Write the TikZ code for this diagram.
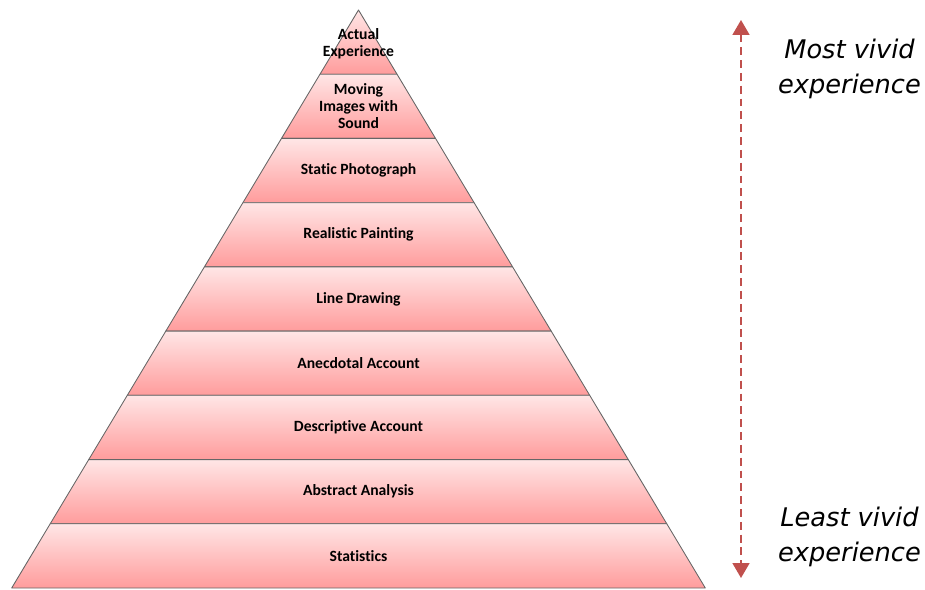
\documentclass[tikz,border=0pt]{standalone}
\usepackage{fontspec}
\setmainfont{Carlito}[Ligatures=NoCommon]
\newfontfamily\vividfont{DejaVu Sans}
\usepackage{tikz}
\usetikzlibrary{arrows.meta}

\definecolor{layertop}{HTML}{FFE6E6}
\definecolor{layerbot}{HTML}{FF9C9C}
\definecolor{arrowred}{HTML}{C0504D}

\tikzset{
    layer/.style={top color=layertop, bottom color=layerbot, draw=black!60, line width=0.5pt, line join=round},
    levellabel/.style={font=\fontsize{8.9}{9.7}\selectfont\bfseries, align=center, inner sep=0pt},
    sidelabel/.style={font=\vividfont\itshape\fontsize{14.6}{20}\selectfont, align=center, inner sep=0pt}
}

\begin{document}
\begin{tikzpicture}[x=0.02cm, y=-0.02cm]
    \useasboundingbox (0,0) rectangle (925,590);

    % Layers (top to bottom)
    \shade[layer] (358.5,10) -- (397.0,74.2) -- (320.0,74.2) -- cycle;
    \shade[layer] (320.0,74.2) -- (397.0,74.2) -- (435.5,138.4) -- (281.5,138.4) -- cycle;
    \shade[layer] (281.5,138.4) -- (435.5,138.4) -- (474.1,202.7) -- (242.9,202.7) -- cycle;
    \shade[layer] (242.9,202.7) -- (474.1,202.7) -- (512.6,266.9) -- (204.4,266.9) -- cycle;
    \shade[layer] (204.4,266.9) -- (512.6,266.9) -- (551.2,331.1) -- (165.8,331.1) -- cycle;
    \shade[layer] (165.8,331.1) -- (551.2,331.1) -- (589.7,395.3) -- (127.3,395.3) -- cycle;
    \shade[layer] (127.3,395.3) -- (589.7,395.3) -- (628.3,459.6) -- (88.7,459.6) -- cycle;
    \shade[layer] (88.7,459.6) -- (628.3,459.6) -- (666.8,523.8) -- (50.2,523.8) -- cycle;
    \shade[layer] (50.2,523.8) -- (666.8,523.8) -- (705.3,588) -- (11.7,588) -- cycle;

    % Labels
    \node[levellabel] (actual) at (358.5,43.5) {Actual\\Experience};
    \node[levellabel] (moving) at (358.5,106.3) {Moving\\Images with\\Sound};
    \node[levellabel] (photo) at (358.5,170.6) {Static Photograph};
    \node[levellabel] (painting) at (358.5,234.8) {Realistic Painting};
    \node[levellabel] (drawing) at (358.5,299.0) {Line Drawing};
    \node[levellabel] (anecdotal) at (358.5,363.2) {Anecdotal Account};
    \node[levellabel] (descriptive) at (358.5,427.5) {Descriptive Account};
    \node[levellabel] (abstract) at (358.5,491.7) {Abstract Analysis};
    \node[levellabel] (stats) at (358.5,555.9) {Statistics};

    % Arrow
    \coordinate (mosttip) at (741,20);
    \coordinate (leasttip) at (741,578);
    \draw[arrowred, line width=1.1pt, dash pattern=on 4.5pt off 2.8pt,
          {Triangle[width=9.6pt,length=8.5pt]}-{Triangle[width=9.6pt,length=8.5pt]}] (mosttip) -- (leasttip);

    % Side texts
    \node[sidelabel] (most) at (849.5,69) {Most vivid\\experience};
    \node[sidelabel] (least) at (849.5,537) {Least vivid\\experience};
\end{tikzpicture}
\end{document}
